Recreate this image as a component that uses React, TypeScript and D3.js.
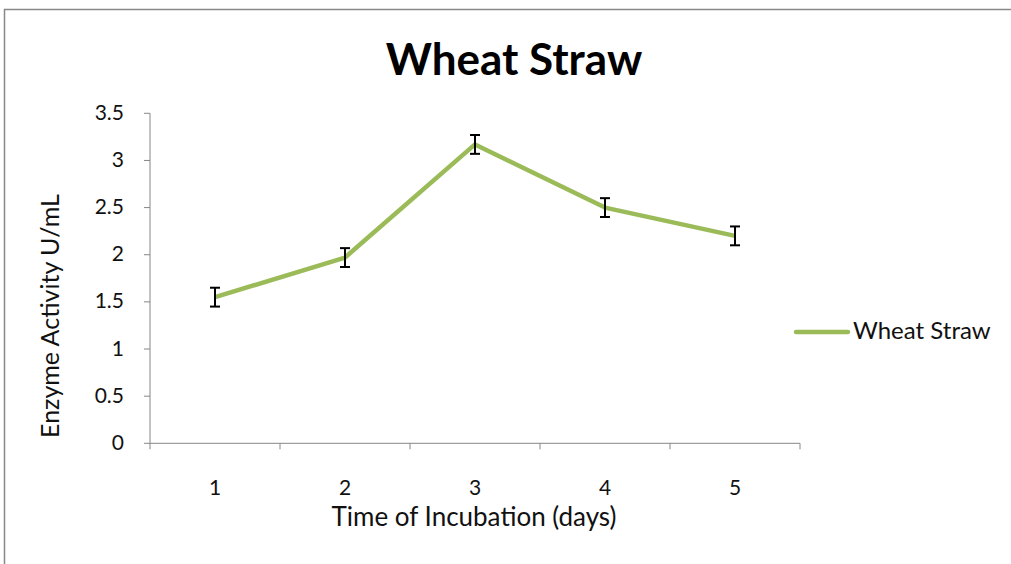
import React from "react";
import * as d3 from "d3";

const categories = ["1", "2", "3", "4", "5"];
const values = [1.55, 1.97, 3.17, 2.5, 2.2];
const errors = [0.1, 0.1, 0.1, 0.1, 0.1];
const yTicks = [0, 0.5, 1, 1.5, 2, 2.5, 3, 3.5];
const seriesName = "Wheat Straw";

export default function App() {
  const W = 1011, H = 564;
  const left = 150, right = 800, top = 113.3, bottom = 443.3;
  const x = d3.scaleBand().domain(categories).range([left, right]);
  const y = d3.scaleLinear().domain([0, 3.5]).range([bottom, top]);
  const cx = (c: string) => (x(c) as number) + x.bandwidth() / 2;
  const line = d3.line<number>().x((_, i) => cx(categories[i])).y((v) => y(v));
  const font = "Lato, 'Open Sans', sans-serif";
  const bounds = [left, ...categories.map((c) => (x(c) as number) + x.bandwidth())];
  return (
    <svg width={W} height={H} style={{ position: "absolute", left: 0, top: 0 }} fontFamily={font}>
      <rect x={0} y={0} width={W} height={H} fill="#fff" />
      <rect x={4.5} y={9.5} width={W + 10} height={H + 10} fill="none" stroke="#888" strokeWidth={1.5} />
      <text x={514} y={75} textAnchor="middle" fontSize={44} fontWeight="bold" fill="#000">Wheat Straw</text>
      {/* axes */}
      <line x1={left} x2={left} y1={top} y2={bottom} stroke="#868686" />
      <line x1={left} x2={right} y1={bottom} y2={bottom} stroke="#868686" />
      {yTicks.map((t) => (
        <g key={t}>
          <line x1={left - 6} x2={left} y1={y(t)} y2={y(t)} stroke="#868686" />
          <text x={left - 26} y={y(t) + 6.5} textAnchor="end" fontSize={21} fill="#111">{t}</text>
        </g>
      ))}
      {bounds.map((b, i) => (
        <line key={i} x1={b} x2={b} y1={bottom} y2={bottom + 6} stroke="#868686" />
      ))}
      {categories.map((c) => (
        <text key={c} x={cx(c)} y={495} textAnchor="middle" fontSize={21} fill="#111">{c}</text>
      ))}
      <text x={474} y={526} textAnchor="middle" fontSize={26} fill="#111">Time of Incubation (days)</text>
      <text transform={`translate(59,316) rotate(-90)`} textAnchor="middle" fontSize={25} fill="#111">Enzyme Activity U/mL</text>
      {/* line */}
      <path d={line(values) || ""} fill="none" stroke="#9BBB59" strokeWidth={4.5} strokeLinejoin="round" />
      {/* error bars */}
      {values.map((v, i) => {
        const px = cx(categories[i]);
        const y1 = y(v + errors[i]);
        const y2 = y(v - errors[i]);
        return (
          <g key={i} stroke="#000" strokeWidth={2}>
            <line x1={px} x2={px} y1={y1} y2={y2} />
            <line x1={px - 5} x2={px + 5} y1={y1} y2={y1} />
            <line x1={px - 5} x2={px + 5} y1={y2} y2={y2} />
          </g>
        );
      })}
      {/* legend */}
      <line x1={796} x2={848} y1={332} y2={332} stroke="#9BBB59" strokeWidth={4.5} strokeLinecap="round" />
      <text x={853} y={339} fontSize={24} fill="#111">{seriesName}</text>
    </svg>
  );
}
